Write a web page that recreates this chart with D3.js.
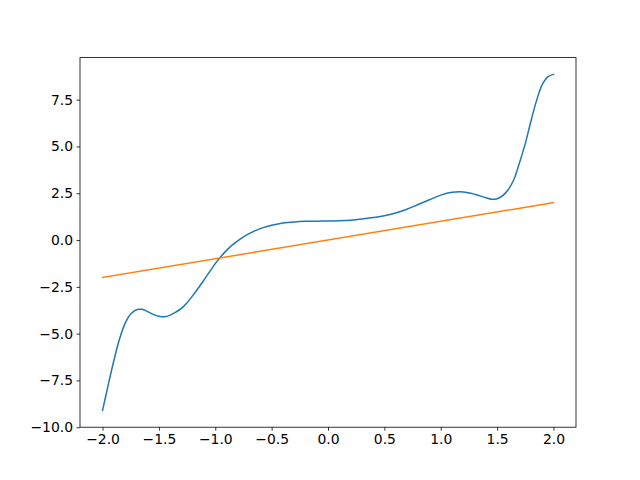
<!DOCTYPE html>
<html><head><meta charset="utf-8">
<script src="https://cdn.jsdelivr.net/npm/d3@7"></script>
<style>body{margin:0;background:#fff}svg{display:block}</style>
</head><body>
<svg id="c" width="640" height="480"></svg>
<script>
const blueX = [-2.0,-1.95,-1.9,-1.85,-1.8,-1.75,-1.7,-1.65,-1.6,-1.55,-1.5,-1.45,-1.4,-1.35,-1.3,-1.25,-1.2,-1.15,-1.1,-1.05,-1.0,-0.95,-0.9,-0.85,-0.8,-0.75,-0.7,-0.65,-0.6,-0.55,-0.5,-0.4,-0.3,-0.2,-0.1,0.0,0.1,0.2,0.3,0.4,0.5,0.6,0.7,0.8,0.9,1.0,1.1,1.2,1.3,1.4,1.45,1.5,1.55,1.6,1.65,1.7,1.75,1.8,1.85,1.9,1.95,2.0];
const blueY = [-9.1,-7.75,-6.45,-5.3,-4.45,-3.95,-3.72,-3.7,-3.82,-3.97,-4.07,-4.1,-4.01,-3.85,-3.65,-3.35,-2.97,-2.56,-2.13,-1.69,-1.26,-0.88,-0.55,-0.27,-0.04,0.17,0.34,0.49,0.61,0.71,0.79,0.91,0.97,1.0,1.01,1.02,1.03,1.06,1.12,1.2,1.3,1.45,1.65,1.9,2.15,2.4,2.55,2.57,2.45,2.26,2.18,2.21,2.37,2.7,3.25,4.15,5.15,6.35,7.45,8.3,8.72,8.85];
const orangeX = [-2.0, 2.0];
const orangeY = [-2.0, 2.0];
const xTicks = [-2.0,-1.5,-1.0,-0.5,0.0,0.5,1.0,1.5,2.0];
const yTicks = [-10.0,-7.5,-5.0,-2.5,0.0,2.5,5.0,7.5];

const L=80, R=576, T=57.6, B=427.2;
const svg = d3.select("#c");
const yMin = d3.min(blueY), yMax = d3.max(blueY), yPad=(yMax-yMin)*0.05;
const x = d3.scaleLinear().domain([-2.2,2.2]).range([L,R]);
const y = d3.scaleLinear().domain([yMin-yPad,yMax+yPad]).range([B,T]);
const fmt = v => d3.format(".1f")(v).replace("-","\u2212");

const line = d3.line().x(d=>x(d[0])).y(d=>y(d[1])).curve(d3.curveCatmullRom.alpha(0.5));
const g = svg.append("g");
g.append("path").datum(blueX.map((v,i)=>[v,blueY[i]])).attr("d",line)
 .attr("fill","none").attr("stroke","#1f77b4").attr("stroke-width",1.5).attr("stroke-linecap","square");
g.append("path").datum(orangeX.map((v,i)=>[v,orangeY[i]])).attr("d",d3.line().x(d=>x(d[0])).y(d=>y(d[1])))
 .attr("fill","none").attr("stroke","#ff7f0e").attr("stroke-width",1.5).attr("stroke-linecap","square");

const xa = svg.append("g").attr("transform",`translate(0,${B})`)
 .call(d3.axisBottom(x).tickValues(xTicks).tickFormat(fmt).tickSize(3.5).tickPadding(3.5));
const ya = svg.append("g").attr("transform",`translate(${L},0)`)
 .call(d3.axisLeft(y).tickValues(yTicks).tickFormat(fmt).tickSize(3.5).tickPadding(3.5));
[xa,ya].forEach(a=>{
  a.select(".domain").remove();
  a.selectAll("line").attr("stroke","#000").attr("stroke-width",0.8);
  a.selectAll("text").attr("font-family","DejaVu Sans").attr("font-size","13.9px").attr("fill","#000");
});
svg.append("rect").attr("x",L).attr("y",T).attr("width",R-L).attr("height",B-T)
 .attr("fill","none").attr("stroke","#000").attr("stroke-width",0.8);
</script>
</body></html>
